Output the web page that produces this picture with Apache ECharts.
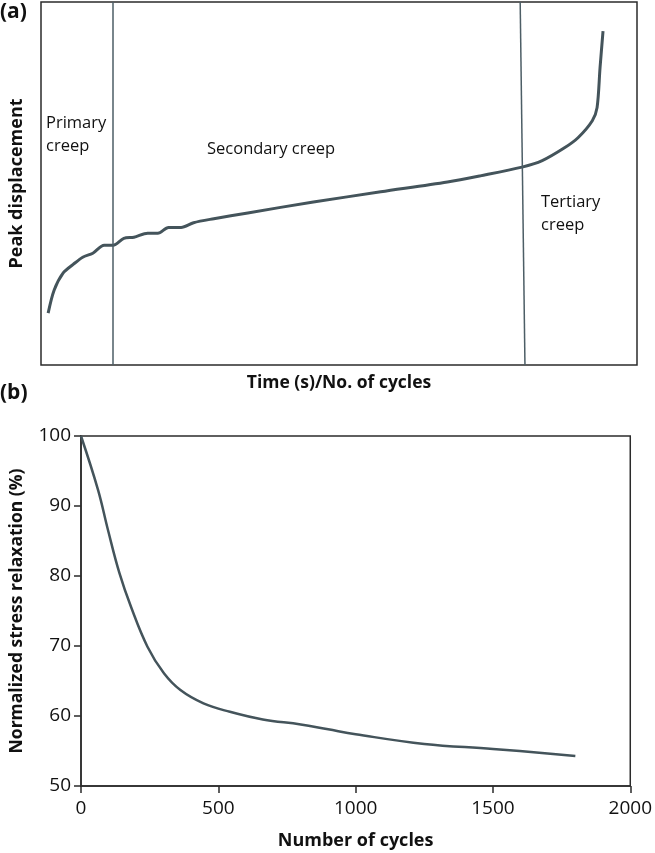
<!DOCTYPE html>
<html><head><meta charset="utf-8">
<script src="https://cdn.jsdelivr.net/npm/echarts@6/dist/echarts.min.js"></script>
<style>html,body{margin:0;padding:0;background:#fff}#c{width:655px;height:853px}</style>
</head><body><div id="c"></div>
<script>
// Panel (a): creep curve, arbitrary units (0-100)
const creepTime = [1.2, 2.2, 3.7, 5.4, 7.0, 8.7, 10.6, 12.1, 13.9, 15.6, 17.9, 19.6, 21.4, 23.5, 25.6, 29.0, 34.7, 45.7, 57.0, 68.2, 73.7, 80.7, 84.1, 87.9, 90.1, 92.5, 93.3, 93.8, 94.3];
const creepDisp = [14.3, 20.6, 25.3, 27.7, 29.7, 30.8, 33.0, 33.0, 34.9, 35.2, 36.3, 36.3, 37.9, 37.9, 39.2, 40.3, 41.9, 44.9, 47.7, 50.4, 52.1, 54.5, 56.3, 59.9, 62.6, 67.3, 70.9, 81.9, 92.0];
// phase boundaries: [x at top, x at bottom]
const boundary1 = [12.1, 12.1];
const boundary2 = [80.4, 81.2];
const phaseLabels = ['Primary\ncreep', 'Secondary creep', 'Tertiary\ncreep'];

// Panel (b): stress relaxation
const cycles = [0, 62, 98, 140, 182, 242, 302, 362, 446, 542, 662, 800, 900, 1000, 1250, 1500, 1800];
const relaxation = [100, 92.3, 86.6, 80.4, 75.6, 69.9, 66.1, 63.7, 61.8, 60.6, 59.5, 58.8, 58.1, 57.4, 56.0, 55.3, 54.3];
const xTicksB = [0, 500, 1000, 1500, 2000];
const yTicksB = [50, 60, 70, 80, 90, 100];

const FONT = '"Open Sans", "DejaVu Sans", sans-serif';
const LINE = '#44545b';
const AX = '#2b2b2b';

const chart = echarts.init(document.getElementById('c'), null, {renderer: 'canvas'});
chart.setOption({
  animation: false,
  backgroundColor: '#fff',
  textStyle: {fontFamily: FONT, color: '#111'},
  grid: [
    {left: 40, top: 2, width: 597, height: 363, show: true, borderColor: AX, borderWidth: 1.5, backgroundColor: 'transparent'},
    {left: 76, top: 436, width: 556, height: 350, show: true, borderColor: AX, borderWidth: 1.5, backgroundColor: 'transparent'}
  ],
  xAxis: [
    {type: 'value', gridIndex: 0, min: 0, max: 100,
     axisLine: {show: false}, axisTick: {show: false}, axisLabel: {show: false}, splitLine: {show: false},
     name: 'Time (s)/No. of cycles', nameLocation: 'middle', nameGap: 9,
     nameTextStyle: {fontFamily: FONT, fontWeight: 'bold', fontSize: 17.5, color: '#111', verticalAlign: 'top'}},
    {type: 'value', gridIndex: 1, min: 0, max: 2000, interval: 500,
     axisLine: {show: true, lineStyle: {color: AX, width: 1.5}},
     axisTick: {show: true, inside: false, length: 7, lineStyle: {color: AX, width: 1.5}},
     axisLabel: {margin: 13, fontSize: 19, color: '#111', fontFamily: FONT,
       formatter: v => xTicksB.includes(v) ? String(v) : ''},
     splitLine: {show: false},
     name: 'Number of cycles', nameLocation: 'middle', nameGap: 46,
     nameTextStyle: {fontFamily: FONT, fontWeight: 'bold', fontSize: 18, color: '#111', verticalAlign: 'top'}}
  ],
  yAxis: [
    {type: 'value', gridIndex: 0, min: 0, max: 100,
     axisLine: {show: false}, axisTick: {show: false}, axisLabel: {show: false}, splitLine: {show: false},
     name: 'Peak displacement', nameLocation: 'middle', nameGap: 15,
     nameTextStyle: {fontFamily: FONT, fontWeight: 'bold', fontSize: 18, color: '#111'}},
    {type: 'value', gridIndex: 1, min: 50, max: 100, interval: 10,
     axisLine: {show: true, lineStyle: {color: AX, width: 1.5}},
     axisTick: {show: true, inside: false, length: 7, lineStyle: {color: AX, width: 1.5}},
     axisLabel: {margin: 10, fontSize: 19, color: '#111', fontFamily: FONT,
       formatter: v => yTicksB.includes(v) ? String(v) : ''},
     splitLine: {show: false},
     name: 'Normalized stress relaxation (%)', nameLocation: 'middle', nameGap: 55,
     nameTextStyle: {fontFamily: FONT, fontWeight: 'bold', fontSize: 17.5, color: '#111'}}
  ],
  series: [
    {type: 'line', xAxisIndex: 0, yAxisIndex: 0, showSymbol: false, symbol: 'none', smooth: 0.3,
     data: creepTime.map((t, i) => [t, creepDisp[i]]),
     lineStyle: {color: LINE, width: 3},
     markLine: {silent: true, symbol: ['none', 'none'], label: {show: false},
       lineStyle: {color: '#4d5e66', width: 1.5, type: 'solid'},
       data: [
         [{coord: [boundary1[0], 100]}, {coord: [boundary1[1], 0]}],
         [{coord: [boundary2[0], 100]}, {coord: [boundary2[1], 0]}]
       ]}},
    {type: 'line', xAxisIndex: 1, yAxisIndex: 1, showSymbol: false, symbol: 'none', smooth: 0.4,
     data: cycles.map((c, i) => [c, relaxation[i]]),
     lineStyle: {color: LINE, width: 2.5}}
  ],
  graphic: [
    {type: 'text', left: 0, top: 2, style: {text: '(a)', font: 'bold 21px ' + FONT, fill: '#111'}},
    {type: 'text', left: 0, top: 383, style: {text: '(b)', font: 'bold 21px ' + FONT, fill: '#111'}},
    {type: 'text', left: 46, top: 112, style: {text: phaseLabels[0], font: '16.5px ' + FONT, fill: '#111', lineHeight: 23}},
    {type: 'text', left: 207, top: 141, style: {text: phaseLabels[1], font: '16.5px ' + FONT, fill: '#111'}},
    {type: 'text', left: 541, top: 191, style: {text: phaseLabels[2], font: '16.5px ' + FONT, fill: '#111', lineHeight: 23}}
  ]
});
</script></body></html>
